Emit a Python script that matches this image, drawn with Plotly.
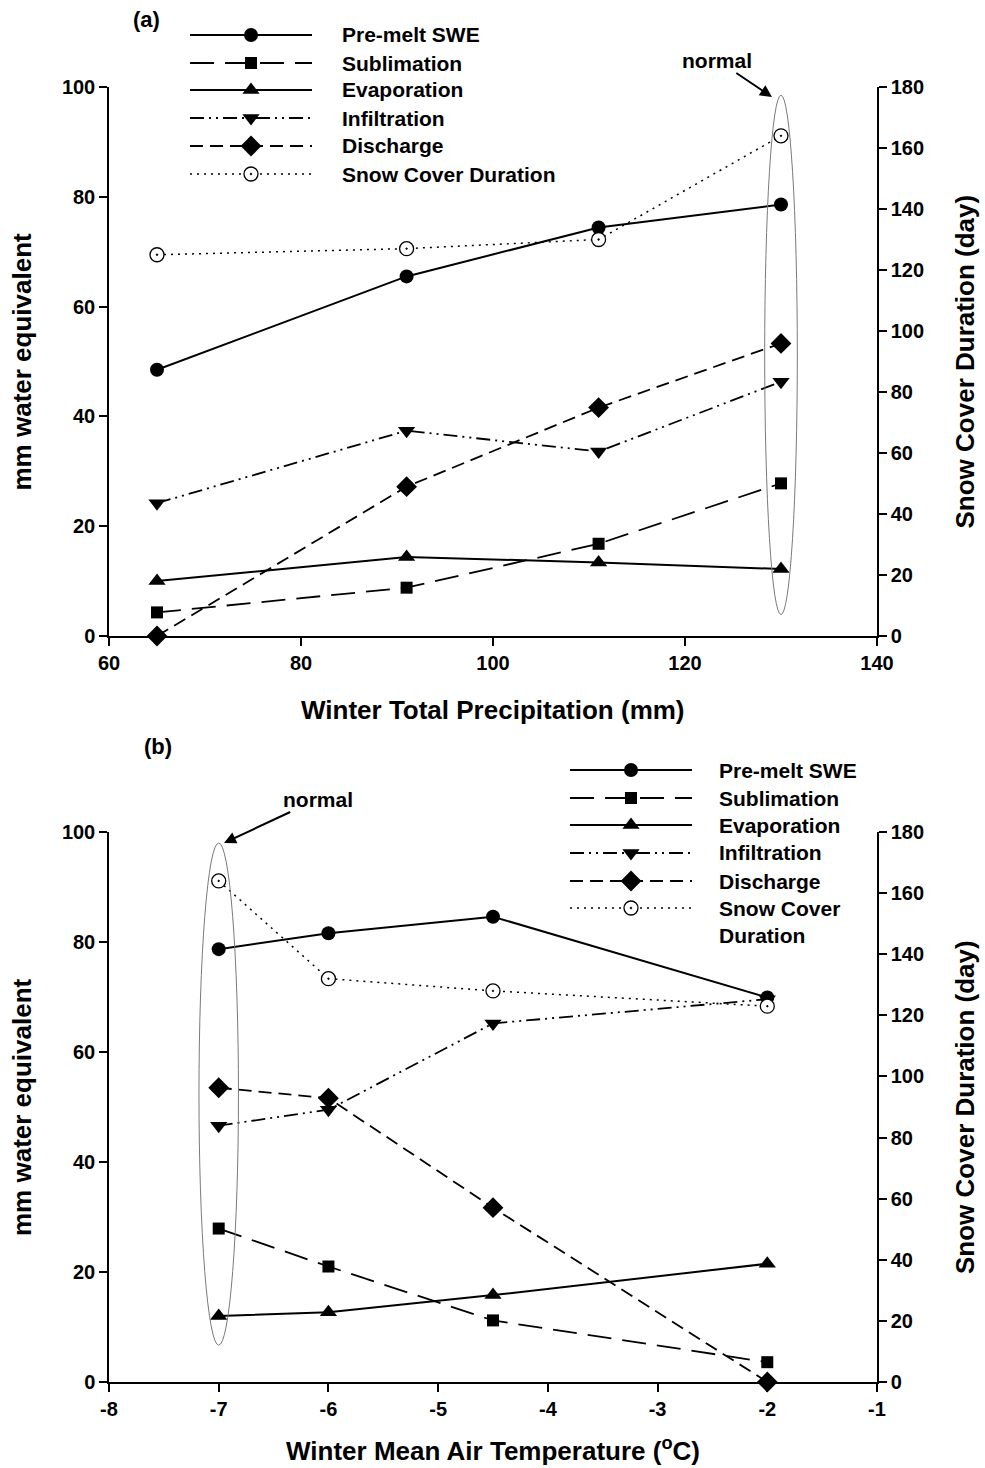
import plotly.graph_objects as go

# ---------------- data ----------------
precip_mm = [65, 91, 111, 130]
a_swe = [48.5, 65.5, 74.4, 78.6]
a_sublimation = [4.3, 8.8, 16.8, 27.8]
a_evaporation = [10.0, 14.4, 13.4, 12.2]
a_infiltration = [24.2, 37.4, 33.6, 46.3]
a_discharge = [0.0, 27.2, 41.6, 53.3]
a_snow_days = [125, 127, 130, 164]

temp_c = [-7, -6, -4.5, -2]
b_swe = [78.7, 81.6, 84.6, 69.9]
b_sublimation = [27.9, 21.0, 11.2, 3.6]
b_evaporation = [12.0, 12.7, 15.8, 21.5]
b_infiltration = [46.6, 49.5, 65.2, 69.6]
b_discharge = [53.5, 51.6, 31.7, 0.0]
b_snow_days = [164, 132, 128, 123]

series_names = ["Pre-melt SWE", "Sublimation", "Evaporation", "Infiltration",
                "Discharge", "Snow Cover Duration"]

mm_ticks = [0, 20, 40, 60, 80, 100]
day_ticks = [0, 20, 40, 60, 80, 100, 120, 140, 160, 180]
precip_ticks = [60, 80, 100, 120, 140]
temp_ticks = [-8, -7, -6, -5, -4, -3, -2, -1]
temp_tick_labels = ["-8", "-7", "-6", "-5", "-4", "-3", "-2", "-1"]

# ---------------- page geometry (pixels) ----------------
W, H = 985, 1468
L, R = 109, 877
A_TOP, A_BOT = 87, 636
B_TOP, B_BOT = 832, 1382

FONT = "Liberation Sans, Arial, Helvetica, sans-serif"


def px(x):
    return (x - L) / (R - L)


def py(y):
    return 1 - y / H


# per-series styling
STYLE = {
    "Pre-melt SWE": dict(symbol="circle", size=14, dash="solid", width=2.0),
    "Sublimation": dict(symbol="square", size=12, dash="24px,11px", width=1.8),
    "Evaporation": dict(symbol="triangle-up", size=15, dash="solid", width=2.0),
    "Infiltration": dict(symbol="triangle-down", size=15,
                         dash="14px,5px,2px,5px,2px,5px", width=1.8),
    "Discharge": dict(symbol="diamond", size=16, dash="13px,7px", width=1.8),
    "Snow Cover Duration": dict(symbol="circle-dot", size=14, dash="2px,5px", width=1.5),
}


def marker_for(name, size=None):
    st = STYLE[name]
    if name == "Snow Cover Duration":
        return dict(symbol=st["symbol"], size=size or st["size"], color="white",
                    line=dict(color="black", width=1.3))
    return dict(symbol=st["symbol"], size=size or st["size"], color="black",
                line=dict(color="black", width=0))


fig = go.Figure()


def add_panel(xvals, ys, xa, ya_left, ya_right):
    for name, yv in zip(series_names, ys):
        st = STYLE[name]
        fig.add_trace(go.Scatter(
            x=xvals, y=yv, mode="lines+markers", name=name, showlegend=False,
            xaxis=xa, yaxis=ya_right if name == "Snow Cover Duration" else ya_left,
            line=dict(color="black", width=st["width"], dash=st["dash"]),
            marker=marker_for(name), cliponaxis=False,
        ))


add_panel(precip_mm, [a_swe, a_sublimation, a_evaporation, a_infiltration,
                      a_discharge, a_snow_days], "x", "y", "y2")
add_panel(temp_c, [b_swe, b_sublimation, b_evaporation, b_infiltration,
                   b_discharge, b_snow_days], "x3", "y3", "y4")


# ---------------- hand-drawn legends (pixel overlay axes) ----------------
def add_legend(x0, x1, xm, xt, rows, annotations, two_line_last=False):
    for name, yr in zip(series_names, rows):
        st = STYLE[name]
        fig.add_trace(go.Scatter(
            x=[x0, x1], y=[yr, yr], mode="lines", showlegend=False,
            xaxis="x5", yaxis="y5", hoverinfo="skip", cliponaxis=False,
            line=dict(color="black", width=st["width"], dash=st["dash"]),
        ))
        fig.add_trace(go.Scatter(
            x=[xm], y=[yr], mode="markers", showlegend=False,
            xaxis="x5", yaxis="y5", hoverinfo="skip", cliponaxis=False,
            marker=marker_for(name),
        ))
        label = name
        yanchor = "middle"
        ytxt = yr
        if two_line_last and name == "Snow Cover Duration":
            label = "Snow Cover<br>Duration"
            yanchor = "top"
            ytxt = yr - 13
        annotations.append(dict(
            x=px(xt), y=py(ytxt), xref="paper", yref="paper", xanchor="left",
            yanchor=yanchor, showarrow=False, align="left",
            text=f"<b>{label}</b>", font=dict(size=21, family=FONT, color="black"),
        ))


annotations = []
add_legend(190, 312, 251, 340, [35, 63, 90, 118, 146, 174], annotations)
add_legend(570, 692, 631, 717, [770, 798, 825, 853, 881, 908], annotations,
           two_line_last=True)


def text(x, y, s, size, angle=0, xanchor="center"):
    annotations.append(dict(
        x=px(x), y=py(y), xref="paper", yref="paper", text=f"<b>{s}</b>",
        showarrow=False, textangle=angle, xanchor=xanchor, yanchor="middle",
        font=dict(size=size, family=FONT, color="black"),
    ))


# panel tags
text(146, 19, "(a)", 22)
text(158, 746, "(b)", 22)

# axis titles
text(22, (A_TOP + A_BOT) / 2, "mm water equivalent", 26, angle=-90)
text(965, (A_TOP + A_BOT) / 2, "Snow Cover Duration (day)", 26, angle=-90)
text((L + R) / 2, 710, "Winter Total Precipitation (mm)", 26)
text(22, (B_TOP + B_BOT) / 2, "mm water equivalent", 26, angle=-90)
text(965, (B_TOP + B_BOT) / 2, "Snow Cover Duration (day)", 26, angle=-90)
text((L + R) / 2, 1449, "Winter Mean Air Temperature (<sup>o</sup>C)", 26)

# "normal" callouts: label centred at (tx, ty), arrow pointing to (hx, hy)
for hx, hy, tx, ty in [(772, 97, 717, 60), (224, 843, 318, 799)]:
    annotations.append(dict(
        x=px(hx), y=py(hy), xref="paper", yref="paper", text="<b>normal</b>",
        font=dict(size=21, family=FONT, color="black"),
        showarrow=True, ax=tx - hx, ay=ty - hy, axref="pixel", ayref="pixel",
        arrowhead=2, arrowsize=1.2, arrowwidth=2, arrowcolor="black",
    ))

# ellipses marking the normal year
shapes = [
    dict(type="circle", xref="x", yref="y", x0=128.3, x1=131.7, y0=3.9, y1=98.5,
         line=dict(color="#7a7a7a", width=1)),
    dict(type="circle", xref="x3", yref="y3", x0=-7.18, x1=-6.82, y0=6.7, y1=98.0,
         line=dict(color="#7a7a7a", width=1)),
]

axis_common = dict(
    showline=True, linecolor="black", linewidth=1.5, ticks="outside", ticklen=8,
    tickwidth=1.5, tickcolor="black", showgrid=False, zeroline=False, mirror=False,
    tickfont=dict(size=20, family=FONT, color="black", weight="bold"),
    fixedrange=True, automargin=False,
)

fig.update_layout(
    width=W, height=H, margin=dict(l=L, r=W - R, t=0, b=0),
    paper_bgcolor="white", plot_bgcolor="rgba(0,0,0,0)", showlegend=False,
    font=dict(family=FONT, color="black"),
    xaxis=dict(domain=[0, 1], range=[60, 140], tickvals=precip_ticks, anchor="y",
               **axis_common),
    yaxis=dict(domain=[py(A_BOT), py(A_TOP)], range=[0, 100], tickvals=mm_ticks,
               anchor="x", **axis_common),
    yaxis2=dict(domain=[py(A_BOT), py(A_TOP)], range=[0, 180], tickvals=day_ticks,
                overlaying="y", side="right", anchor="x", **axis_common),
    xaxis3=dict(domain=[0, 1], range=[-8, -1], tickvals=temp_ticks,
                ticktext=temp_tick_labels, anchor="y3", **axis_common),
    yaxis3=dict(domain=[py(B_BOT), py(B_TOP)], range=[0, 100], tickvals=mm_ticks,
                anchor="x3", **axis_common),
    yaxis4=dict(domain=[py(B_BOT), py(B_TOP)], range=[0, 180], tickvals=day_ticks,
                overlaying="y3", side="right", anchor="x3", **axis_common),
    xaxis5=dict(domain=[0, 1], range=[L, R], visible=False, anchor="y5",
                fixedrange=True),
    yaxis5=dict(domain=[0, 1], range=[H, 0], visible=False, anchor="x5",
                fixedrange=True),
    annotations=annotations,
    shapes=shapes,
)

fig.write_html("out.html")
